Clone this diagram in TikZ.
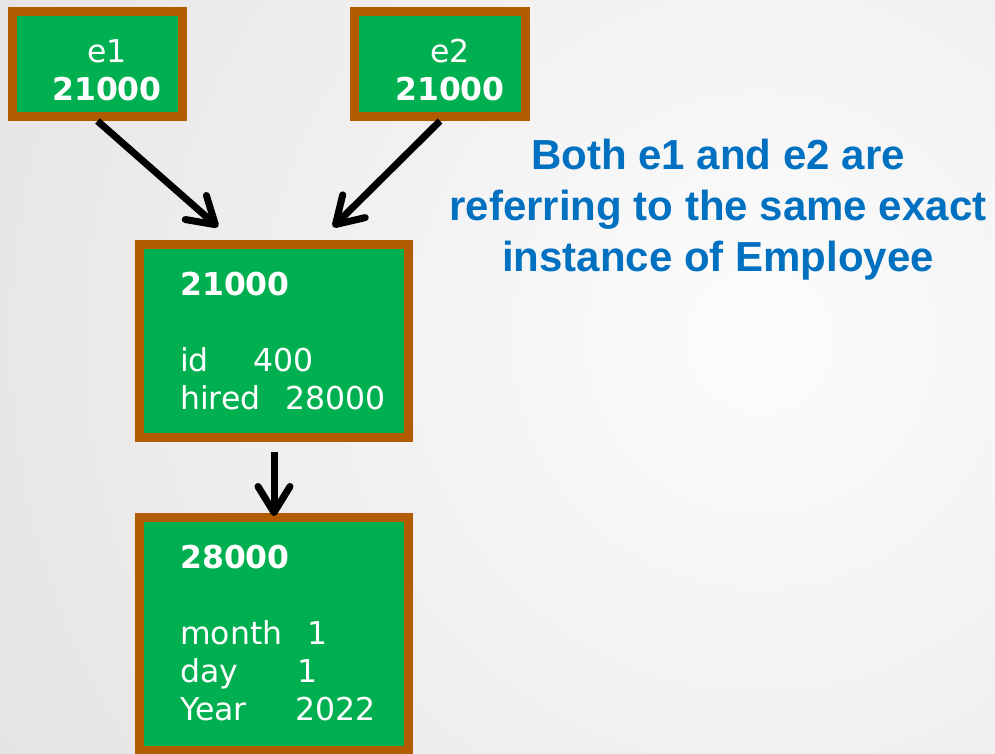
\documentclass[tikz,border=0pt]{standalone}
\usepackage{fontspec}
\usetikzlibrary{arrows.meta}
\newfontfamily\boxfont{DejaVu Sans}
\newfontfamily\notefont{Liberation Sans}
\definecolor{objgreen}{HTML}{00B050}
\definecolor{objrim}{HTML}{B25C00}
\definecolor{noteblue}{HTML}{0070C0}

\begin{document}
\begin{tikzpicture}[x=1pt,y=-1pt,
  obj/.style={draw=objrim,fill=objgreen,line width=9pt,inner sep=0pt},
  txt/.style={text=white,inner sep=0pt,font=\boxfont\fontsize{31.5}{38}\selectfont},
  ref/.style={line width=7pt,-{Straight Barb[length=26pt,width=32pt,round]}}]
\useasboundingbox (0,0) rectangle (995,754);
\begin{scope}
\clip (0,0) rectangle (995,754);
\shade[inner color=black!1,outer color=black!23] (760,340) circle (2000);
\end{scope}
% the two variables
\node[obj,minimum width=170pt,minimum height=105pt] (e1) at (97.5,64) {};
\node[obj,minimum width=171pt,minimum height=105pt] (e2) at (440,64) {};
\node[txt,anchor=north,align=center] (e1txt) at (107,39) {e1\\\textbf{21000}};
\node[txt,anchor=north,align=center] (e2txt) at (450,39) {e2\\\textbf{21000}};
% objects on the heap
\node[obj,minimum width=269pt,minimum height=193pt] (emp) at (274,341) {};
\node[obj,minimum width=269pt,minimum height=233pt] (date) at (274,634) {};
\node[txt,anchor=north west,align=left] (emptxt) at (180,272)
  {\textbf{21000}\\[38pt]\makebox[73pt][l]{id}400\\\makebox[105pt][l]{hired}28000};
\node[txt,anchor=north west,align=left] (datetxt) at (180,545)
  {\textbf{28000}\\[38pt]\makebox[127pt][l]{month}1\\\makebox[117pt][l]{day}1\\\makebox[115pt][l]{Year}2022};
\draw[ref] (e1.south) -- ([xshift=-56pt,yshift=13pt]emp.north);
\draw[ref] (e2.south) -- ([xshift=59pt,yshift=13pt]emp.north);
\draw[ref,shorten <=10pt] (emp.south) -- ([yshift=-3pt]date.north);
\node[anchor=north,inner sep=0pt,align=center,text=noteblue,
  font=\notefont\bfseries\fontsize{42}{51}\selectfont] (note) at (718,139)
  {Both e1 and e2 are\\referring to the same exact\\instance of Employee};
\end{tikzpicture}
\end{document}
